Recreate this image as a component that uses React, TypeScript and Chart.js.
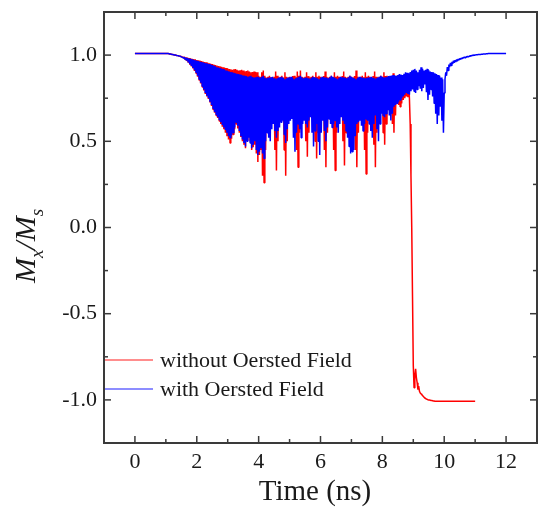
import React, { useEffect, useRef } from 'react';
import { Chart, registerables } from 'chart.js';

Chart.register(...registerables);

// sampling step of the simulated time traces (ns)
const TIME_STEP = 0.025;

// Mx/Ms without Oersted field, t = 0 ... 11 ns (one row = 0.5 ns)
const withoutOersted: number[] = [
  1.01, 1.01, 1.01, 1.01, 1.01, 1.01, 1.01, 1.01, 1.01, 1.01, 1.01, 1.01, 1.01, 1.01, 1.01, 1.01, 1.01, 1.01, 1.01, 1.01,
  1.01, 1.01, 1.01, 1.01, 1.01, 1.01, 1.01, 1.01, 1.01, 1.01, 1.01, 1.01, 1.01, 1.01, 1.01, 1.01, 1.01, 1.01, 1.01, 1.01,
  1.01, 1.01, 1.01, 1.009, 1.008, 1.007, 1.006, 1.005, 1.004, 1.003, 1.002, 1.001, 1.0, 0.999, 0.998, 0.997, 0.996, 0.995, 0.994, 0.993,
  0.992, 0.988, 0.99, 0.982, 0.989, 0.975, 0.987, 0.966, 0.985, 0.956, 0.983, 0.945, 0.98, 0.934, 0.978, 0.922, 0.976, 0.908, 0.975, 0.895,
  0.972, 0.875, 0.97, 0.855, 0.968, 0.835, 0.965, 0.815, 0.963, 0.795, 0.96, 0.775, 0.958, 0.76, 0.955, 0.745, 0.952, 0.725, 0.95, 0.705,
  0.948, 0.685, 0.945, 0.665, 0.942, 0.65, 0.94, 0.635, 0.937, 0.618, 0.935, 0.6, 0.932, 0.585, 0.93, 0.57, 0.927, 0.55, 0.925, 0.53,
  0.922, 0.51, 0.92, 0.49, 0.918, 0.515, 0.915, 0.54, 0.918, 0.57, 0.92, 0.6, 0.915, 0.575, 0.91, 0.55, 0.912, 0.525, 0.915, 0.5,
  0.91, 0.48, 0.905, 0.46, 0.908, 0.505, 0.91, 0.55, 0.905, 0.5, 0.9, 0.45, 0.902, 0.465, 0.905, 0.48, 0.902, 0.43, 0.9, 0.38,
  0.88, 0.42, 0.875, 0.45, 0.9, 0.3, 0.91, 0.26, 0.88, 0.45, 0.87, 0.62, 0.875, 0.61, 0.88, 0.6, 0.872, 0.65, 0.87, 0.7,
  0.875, 0.45, 0.905, 0.33, 0.88, 0.5, 0.87, 0.68, 0.875, 0.67, 0.88, 0.66, 0.87, 0.45, 0.9, 0.3, 0.875, 0.5, 0.87, 0.7,
  0.875, 0.69, 0.87, 0.68, 0.878, 0.66, 0.88, 0.64, 0.872, 0.45, 0.905, 0.35, 0.88, 0.55, 0.91, 0.7, 0.875, 0.68, 0.87, 0.66,
  0.875, 0.5, 0.9, 0.41, 0.878, 0.55, 0.87, 0.68, 0.875, 0.67, 0.88, 0.66, 0.872, 0.5, 0.9, 0.4, 0.875, 0.55, 0.88, 0.7,
  0.875, 0.68, 0.87, 0.66, 0.878, 0.45, 0.905, 0.35, 0.875, 0.55, 0.87, 0.7, 0.875, 0.69, 0.88, 0.68, 0.872, 0.45, 0.9, 0.33,
  0.875, 0.55, 0.88, 0.7, 0.875, 0.68, 0.87, 0.66, 0.878, 0.5, 0.905, 0.36, 0.875, 0.55, 0.87, 0.7, 0.875, 0.69, 0.88, 0.68,
  0.875, 0.67, 0.87, 0.66, 0.878, 0.45, 0.91, 0.35, 0.875, 0.55, 0.87, 0.7, 0.875, 0.69, 0.88, 0.68, 0.872, 0.45, 0.9, 0.31,
  0.875, 0.55, 0.88, 0.7, 0.875, 0.68, 0.87, 0.66, 0.878, 0.48, 0.905, 0.35, 0.875, 0.55, 0.87, 0.7, 0.875, 0.69, 0.88, 0.68,
  0.875, 0.55, 0.9, 0.48, 0.878, 0.6, 0.88, 0.7, 0.875, 0.68, 0.87, 0.66, 0.875, 0.6, 0.895, 0.55, 0.878, 0.65, 0.88, 0.72,
  0.878, 0.71, 0.885, 0.7, 0.875, 0.72, 0.87, 0.74, 0.875, 0.75, 0.88, 0.76, 0.875, 0.755, 0.87, 0.75, 0.6, 0.3, 0.0, -0.4,
  -0.8, -0.93, -0.86, -0.82, -0.87, -0.9, -0.94, -0.92, -0.95, -0.96, -0.965, -0.97, -0.975, -0.98, -0.985, -0.99, -0.992, -0.995, -0.997, -0.999,
  -1.0, -1.001, -1.002, -1.003, -1.004, -1.005, -1.006, -1.007, -1.008, -1.008, -1.008, -1.008, -1.008, -1.008, -1.008, -1.008, -1.008, -1.008, -1.008, -1.008,
  -1.008, -1.008, -1.008, -1.008, -1.008, -1.008, -1.008, -1.008, -1.008, -1.008, -1.008, -1.008, -1.008, -1.008, -1.008, -1.008, -1.008, -1.008, -1.008, -1.008,
  -1.008, -1.008, -1.008, -1.008, -1.008, -1.008, -1.008, -1.008, -1.008, -1.008, -1.008, -1.008, -1.008, -1.008, -1.008, -1.008, -1.008, -1.008, -1.008, -1.008,
  -1.008,
];

// Mx/Ms with Oersted field, t = 0 ... 12 ns (one row = 0.5 ns)
const withOersted: number[] = [
  1.01, 1.01, 1.01, 1.01, 1.01, 1.01, 1.01, 1.01, 1.01, 1.01, 1.01, 1.01, 1.01, 1.01, 1.01, 1.01, 1.01, 1.01, 1.01, 1.01,
  1.01, 1.01, 1.01, 1.01, 1.01, 1.01, 1.01, 1.01, 1.01, 1.01, 1.01, 1.01, 1.01, 1.01, 1.01, 1.01, 1.01, 1.01, 1.01, 1.01,
  1.01, 1.01, 1.01, 1.009, 1.008, 1.007, 1.006, 1.005, 1.004, 1.003, 1.002, 1.001, 1.0, 0.999, 0.998, 0.997, 0.996, 0.995, 0.994, 0.992,
  0.99, 0.988, 0.988, 0.982, 0.987, 0.975, 0.985, 0.968, 0.983, 0.958, 0.98, 0.948, 0.978, 0.937, 0.975, 0.925, 0.973, 0.912, 0.97, 0.9,
  0.968, 0.88, 0.965, 0.86, 0.963, 0.84, 0.96, 0.82, 0.958, 0.8, 0.955, 0.78, 0.953, 0.765, 0.95, 0.75, 0.948, 0.73, 0.945, 0.71,
  0.943, 0.69, 0.94, 0.67, 0.935, 0.655, 0.93, 0.64, 0.928, 0.625, 0.925, 0.61, 0.922, 0.595, 0.92, 0.58, 0.915, 0.565, 0.91, 0.55,
  0.908, 0.53, 0.905, 0.52, 0.902, 0.535, 0.9, 0.55, 0.898, 0.58, 0.895, 0.61, 0.892, 0.59, 0.89, 0.56, 0.887, 0.53, 0.885, 0.51,
  0.882, 0.49, 0.88, 0.47, 0.878, 0.5, 0.875, 0.52, 0.877, 0.49, 0.88, 0.46, 0.873, 0.48, 0.87, 0.5, 0.872, 0.45, 0.875, 0.42,
  0.872, 0.44, 0.87, 0.46, 0.875, 0.43, 0.88, 0.4, 0.87, 0.5, 0.865, 0.55, 0.868, 0.52, 0.87, 0.5, 0.872, 0.57, 0.875, 0.6,
  0.865, 0.56, 0.86, 0.52, 0.865, 0.56, 0.87, 0.58, 0.872, 0.61, 0.875, 0.62, 0.868, 0.54, 0.86, 0.49, 0.865, 0.57, 0.87, 0.6,
  0.872, 0.62, 0.875, 0.63, 0.868, 0.52, 0.86, 0.44, 0.865, 0.55, 0.87, 0.6, 0.875, 0.57, 0.88, 0.52, 0.872, 0.6, 0.865, 0.62,
  0.868, 0.6, 0.87, 0.58, 0.865, 0.62, 0.86, 0.64, 0.868, 0.55, 0.875, 0.47, 0.872, 0.56, 0.87, 0.6, 0.865, 0.5, 0.86, 0.42,
  0.868, 0.55, 0.875, 0.62, 0.872, 0.56, 0.87, 0.5, 0.868, 0.58, 0.865, 0.63, 0.872, 0.6, 0.88, 0.58, 0.875, 0.6, 0.87, 0.62,
  0.865, 0.58, 0.86, 0.55, 0.868, 0.6, 0.875, 0.64, 0.872, 0.62, 0.87, 0.6, 0.868, 0.56, 0.865, 0.52, 0.872, 0.47, 0.88, 0.43,
  0.875, 0.44, 0.87, 0.45, 0.865, 0.53, 0.86, 0.6, 0.868, 0.61, 0.875, 0.62, 0.872, 0.59, 0.87, 0.56, 0.868, 0.6, 0.865, 0.63,
  0.868, 0.62, 0.87, 0.6, 0.872, 0.56, 0.875, 0.52, 0.868, 0.6, 0.86, 0.65, 0.865, 0.57, 0.87, 0.5, 0.875, 0.6, 0.88, 0.66,
  0.875, 0.65, 0.87, 0.64, 0.872, 0.66, 0.875, 0.68, 0.878, 0.65, 0.88, 0.62, 0.882, 0.66, 0.885, 0.7, 0.882, 0.71, 0.88, 0.72,
  0.885, 0.73, 0.89, 0.74, 0.888, 0.75, 0.885, 0.76, 0.892, 0.77, 0.9, 0.78, 0.898, 0.775, 0.895, 0.77, 0.902, 0.79, 0.91, 0.8,
  0.915, 0.79, 0.92, 0.78, 0.91, 0.8, 0.9, 0.82, 0.915, 0.805, 0.93, 0.79, 0.92, 0.81, 0.91, 0.83, 0.915, 0.785, 0.92, 0.74,
  0.912, 0.77, 0.905, 0.8, 0.902, 0.76, 0.9, 0.72, 0.895, 0.66, 0.89, 0.6, 0.885, 0.65, 0.88, 0.7, 0.87, 0.62, 0.86, 0.55,
  0.78, 0.86, 0.9, 0.88, 0.93, 0.91, 0.945, 0.93, 0.955, 0.94, 0.962, 0.95, 0.967, 0.955, 0.97, 0.96, 0.974, 0.965, 0.977, 0.97,
  0.98, 0.975, 0.983, 0.978, 0.986, 0.982, 0.989, 0.985, 0.991, 0.988, 0.993, 0.99, 0.995, 0.992, 0.997, 0.995, 0.999, 0.997, 1.0, 0.999,
  1.001, 1.001, 1.002, 1.002, 1.003, 1.003, 1.004, 1.004, 1.005, 1.005, 1.006, 1.006, 1.007, 1.007, 1.008, 1.008, 1.008, 1.009, 1.009, 1.009,
  1.01, 1.01, 1.01, 1.01, 1.01, 1.01, 1.01, 1.01, 1.01, 1.01, 1.01, 1.01, 1.01, 1.01, 1.01, 1.01, 1.01, 1.01, 1.01, 1.01,
  1.01,
];

const seriesLabels = ['without Oersted Field', 'with Oersted Field'];
const seriesColors = ['#ff0000', '#0000ff'];

const xMajorTicks = [0, 2, 4, 6, 8, 10, 12];
const xTickLabels = ['0', '2', '4', '6', '8', '10', '12'];
const xMinorTicks = [1, 3, 5, 7, 9, 11];
const yMajorTicks = [-1, -0.5, 0, 0.5, 1];
const yTickLabels = ['-1.0', '-0.5', '0.0', '0.5', '1.0'];
const yMinorTicks = [-0.75, -0.25, 0.25, 0.75];

const X_MIN = -1;
const X_MAX = 13;
const Y_MIN = -1.25;
const Y_MAX = 1.25;

const SERIF = '"Liberation Serif", "Times New Roman", Times, serif';
const INK = '#1a1a1a';
const FRAME = '#3a3a3a';

const toPoints = (vals: number[]) =>
  vals.map((v, i) => ({ x: Math.round(i * TIME_STEP * 1000) / 1000, y: v }));

const framePlugin = {
  id: 'frameDecor',
  afterDraw(chart: any) {
    const { ctx, chartArea, scales } = chart;
    const { left, right, top, bottom } = chartArea;
    const xs = scales.x;
    const ys = scales.y;
    ctx.save();
    ctx.strokeStyle = FRAME;
    ctx.lineWidth = 1.5;
    const seg = (x1: number, y1: number, x2: number, y2: number) => {
      ctx.beginPath();
      ctx.moveTo(x1, y1);
      ctx.lineTo(x2, y2);
      ctx.stroke();
    };
    const major = 7;
    const minor = 4;
    xMajorTicks.forEach((v) => {
      const p = xs.getPixelForValue(v);
      seg(p, bottom, p, bottom - major);
      seg(p, top, p, top + major);
    });
    xMinorTicks.forEach((v) => {
      const p = xs.getPixelForValue(v);
      seg(p, bottom, p, bottom - minor);
      seg(p, top, p, top + minor);
    });
    yMajorTicks.forEach((v) => {
      const p = ys.getPixelForValue(v);
      seg(left, p, left + major, p);
      seg(right, p, right - major, p);
    });
    yMinorTicks.forEach((v) => {
      const p = ys.getPixelForValue(v);
      seg(left, p, left + minor, p);
      seg(right, p, right - minor, p);
    });
    ctx.lineWidth = 2;
    ctx.strokeRect(left, top, right - left, bottom - top);

    // legend (inside plot, lower left)
    const legendY = [360, 389];
    chart.data.datasets.forEach((ds: any, i: number) => {
      ctx.strokeStyle = ds.borderColor;
      ctx.globalAlpha = 0.6;
      ctx.lineWidth = 1.5;
      seg(left + 1, legendY[i], left + 49, legendY[i]);
      ctx.globalAlpha = 1;
      ctx.fillStyle = INK;
      ctx.font = `22px ${SERIF}`;
      ctx.textAlign = 'left';
      ctx.textBaseline = 'middle';
      ctx.fillText(ds.label, left + 56, legendY[i] + 1);
    });

    // x axis title
    ctx.fillStyle = INK;
    ctx.font = `29px ${SERIF}`;
    ctx.textAlign = 'center';
    ctx.textBaseline = 'middle';
    ctx.fillText('Time (ns)', 315, 492);

    // y axis title: M_x / M_s, rotated
    ctx.save();
    ctx.translate(35, 246);
    ctx.rotate(-Math.PI / 2);
    ctx.textAlign = 'left';
    ctx.textBaseline = 'alphabetic';
    const big = `italic 30px ${SERIF}`;
    const small = `italic 19px ${SERIF}`;
    const parts: [string, string, number][] = [
      ['M', big, 0],
      ['x', small, 8],
      ['/', big, 0],
      ['M', big, 0],
      ['s', small, 8],
    ];
    let total = 0;
    parts.forEach(([t, f]) => {
      ctx.font = f;
      total += ctx.measureText(t).width;
    });
    let cx = -total / 2;
    parts.forEach(([t, f, dy]) => {
      ctx.font = f;
      ctx.fillText(t, cx, dy);
      cx += ctx.measureText(t).width;
    });
    ctx.restore();
    ctx.restore();
  },
};

export default function App() {
  const canvasRef = useRef<HTMLCanvasElement | null>(null);

  useEffect(() => {
    if (!canvasRef.current) return;
    const chart = new Chart(canvasRef.current, {
      type: 'line',
      data: {
        datasets: [
          {
            label: seriesLabels[0],
            data: toPoints(withoutOersted),
            borderColor: seriesColors[0],
            borderWidth: 1.5,
            pointRadius: 0,
            tension: 0,
            fill: false,
            borderJoinStyle: 'bevel',
            order: 1,
          },
          {
            label: seriesLabels[1],
            data: toPoints(withOersted),
            borderColor: seriesColors[1],
            borderWidth: 1.5,
            pointRadius: 0,
            tension: 0,
            fill: false,
            borderJoinStyle: 'bevel',
            order: 0,
          },
        ],
      },
      options: {
        responsive: false,
        animation: false,
        devicePixelRatio: 1,
        layout: { padding: { left: 0, top: 12, right: 6, bottom: 0 } },
        plugins: {
          legend: { display: false },
          tooltip: { enabled: false },
          title: { display: false },
        },
        scales: {
          x: {
            type: 'linear',
            min: X_MIN,
            max: X_MAX,
            grid: { display: false, drawTicks: false },
            border: { display: false },
            ticks: {
              stepSize: 1,
              autoSkip: false,
              maxRotation: 0,
              padding: 6,
              color: INK,
              font: { family: SERIF, size: 22 },
              callback: (v: any) => {
                const i = xMajorTicks.indexOf(Number(v));
                return i >= 0 ? xTickLabels[i] : '';
              },
            },
            afterFit: (s: any) => {
              s.height = 78;
              s.paddingLeft = 0;
              s.paddingRight = 0;
            },
          },
          y: {
            type: 'linear',
            min: Y_MIN,
            max: Y_MAX,
            grid: { display: false, drawTicks: false },
            border: { display: false },
            ticks: {
              stepSize: 0.25,
              autoSkip: false,
              padding: 7,
              color: INK,
              font: { family: SERIF, size: 22 },
              callback: (v: any) => {
                const n = Number(v);
                const i = yMajorTicks.findIndex((m) => Math.abs(m - n) < 1e-6);
                return i >= 0 ? yTickLabels[i] : '';
              },
            },
            afterFit: (s: any) => {
              s.width = 104;
              s.paddingTop = 0;
              s.paddingBottom = 0;
            },
          },
        },
      },
      plugins: [framePlugin],
    } as any);
    return () => chart.destroy();
  }, []);

  return (
    <div style={{ position: 'absolute', left: 0, top: 0, width: 543, height: 521, background: '#fff' }}>
      <canvas ref={canvasRef} width={543} height={521} style={{ display: 'block' }} />
    </div>
  );
}
